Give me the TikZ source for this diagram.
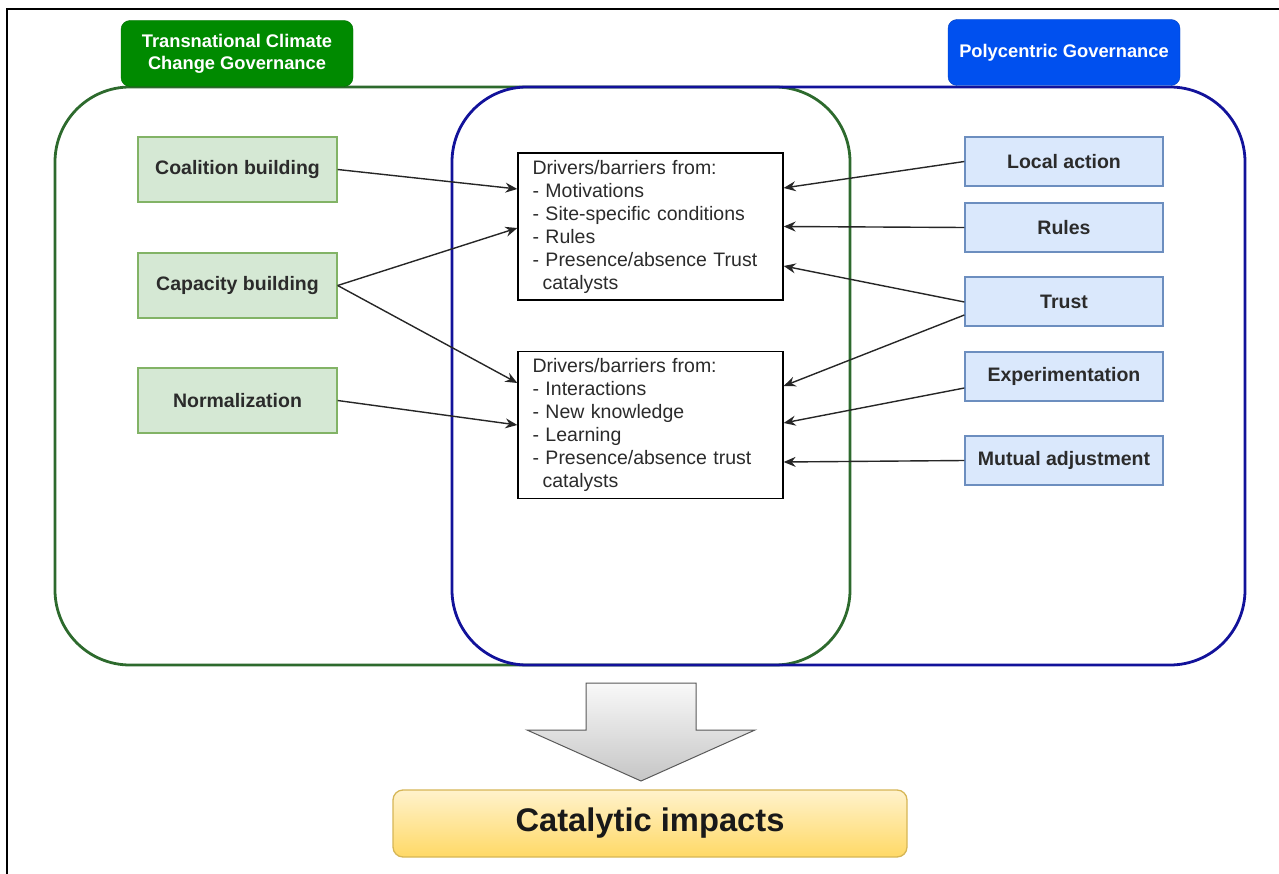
\documentclass[tikz,border=0pt]{standalone}
\usepackage{fontspec}
\setmainfont{Liberation Sans}
\usetikzlibrary{arrows.meta}
\definecolor{TccFill}{HTML}{008A00}
\definecolor{TccLine}{HTML}{2D6A2D}
\definecolor{PolyFill}{HTML}{0050EF}
\definecolor{PolyLine}{HTML}{12129A}
\definecolor{GreenBox}{HTML}{D5E8D4}
\definecolor{GreenEdge}{HTML}{82B366}
\definecolor{BlueBox}{HTML}{DAE8FC}
\definecolor{BlueEdge}{HTML}{6C8EBF}
\definecolor{Ink}{HTML}{2B2B2B}
\definecolor{GoldTop}{HTML}{FFF2CC}
\definecolor{GoldBot}{HTML}{FFD966}
\definecolor{GoldEdge}{HTML}{D6B656}

\begin{document}
\begin{tikzpicture}[x=1pt,y=-1pt,
    tab/.style={rounded corners=9pt,text=white,font=\fontsize{18.3}{22}\selectfont\bfseries,align=center,minimum width=232pt,minimum height=66pt,inner sep=0pt},
    tccbox/.style={draw=GreenEdge,fill=GreenBox,line width=1.3pt,minimum width=199pt,minimum height=65pt,inner sep=0pt,text=Ink,font=\fontsize{19.5}{23}\selectfont\bfseries},
    polybox/.style={draw=BlueEdge,fill=BlueBox,line width=1.3pt,minimum width=198pt,minimum height=49pt,inner sep=0pt,text=Ink,font=\fontsize{19.5}{23}\selectfont\bfseries},
    drvbox/.style={draw,fill=white,line width=1.3pt,minimum height=147pt,text width=236pt,inner xsep=14.5pt,inner ysep=0pt,align=left,text=Ink,font=\fontsize{19.5}{23}\selectfont},
    link/.style={-{Stealth[length=12pt,width=10pt,inset=4pt]},line width=1.4pt,black!85}]
  \useasboundingbox (0,0) rectangle (1279,874);
  \draw[line width=2.5pt] (7,874) -- (7,9) -- (1279,9);
  % the two overlapping frames
  \draw[TccLine,line width=2.8pt,rounded corners=75pt] (55,87) rectangle (850,665);
  \draw[PolyLine,line width=2.8pt,rounded corners=75pt] (452,87) rectangle (1245,665);
  \node[tab,fill=TccFill,draw=TccFill!80!black] (tcc) at (237,53.5) {Transnational Climate\\Change Governance};
  \node[tab,fill=PolyFill,draw=PolyFill!80!black] (poly) at (1064,52.5) {Polycentric Governance};
  \node[tccbox] (coal) at (237.5,169.5) {Coalition building};
  \node[tccbox] (capa) at (237.5,285.5) {Capacity building};
  \node[tccbox] (norm) at (237.5,400.5) {Normalization};
  \node[polybox] (local) at (1064,161.5) {Local action};
  \node[polybox] (rules) at (1064,227.5) {Rules};
  \node[polybox] (trust) at (1064,301.5) {Trust};
  \node[polybox] (exper) at (1064,376.5) {Experimentation};
  \node[polybox] (mutual) at (1064,460.5) {Mutual adjustment};
  \node[drvbox] (drvA) at (650.5,226.5) {Drivers/barriers from:\\- Motivations\\- Site-specific conditions\\- Rules\\- Presence/absence Trust\\\hspace*{10pt}catalysts};
  \node[drvbox] (drvB) at (650.5,425) {Drivers/barriers from:\\- Interactions\\- New knowledge\\- Learning\\- Presence/absence trust\\\hspace*{10pt}catalysts};
  \draw[link] (coal.east) -- ([yshift=37.5pt]drvA.west);
  \draw[link] (capa.east) -- ([yshift=-1.5pt]drvA.west);
  \draw[link] (capa.east) -- ([yshift=42pt]drvB.west);
  \draw[link] (norm.east) -- (drvB.west);
  \draw[link] (local.west) -- ([yshift=38.5pt]drvA.east);
  \draw[link] (rules.west) -- (drvA.east);
  \draw[link] ([yshift=-0.5pt]trust.west) -- ([yshift=-39.5pt]drvA.east);
  \draw[link] ([yshift=-13.5pt]trust.west) -- ([yshift=39pt]drvB.east);
  \draw[link] ([yshift=-11.5pt]exper.west) -- ([yshift=2pt]drvB.east);
  \draw[link] (mutual.west) -- ([yshift=-37pt]drvB.east);
  % down arrow to the result
  \draw[gray!70!black,line width=1pt,top color=gray!5,bottom color=gray!45] (586,683) -- (696,683) -- (696,730) -- (755,730) -- (641,781) -- (527,730) -- (586,730) -- cycle;
  \node[draw=GoldEdge,top color=GoldTop,bottom color=GoldBot,line width=1.3pt,rounded corners=10pt,minimum width=514pt,minimum height=67pt,font=\fontsize{32.7}{38}\selectfont\bfseries,text=black!90] (impact) at (650,823.5) {Catalytic impacts};
\end{tikzpicture}
\end{document}
